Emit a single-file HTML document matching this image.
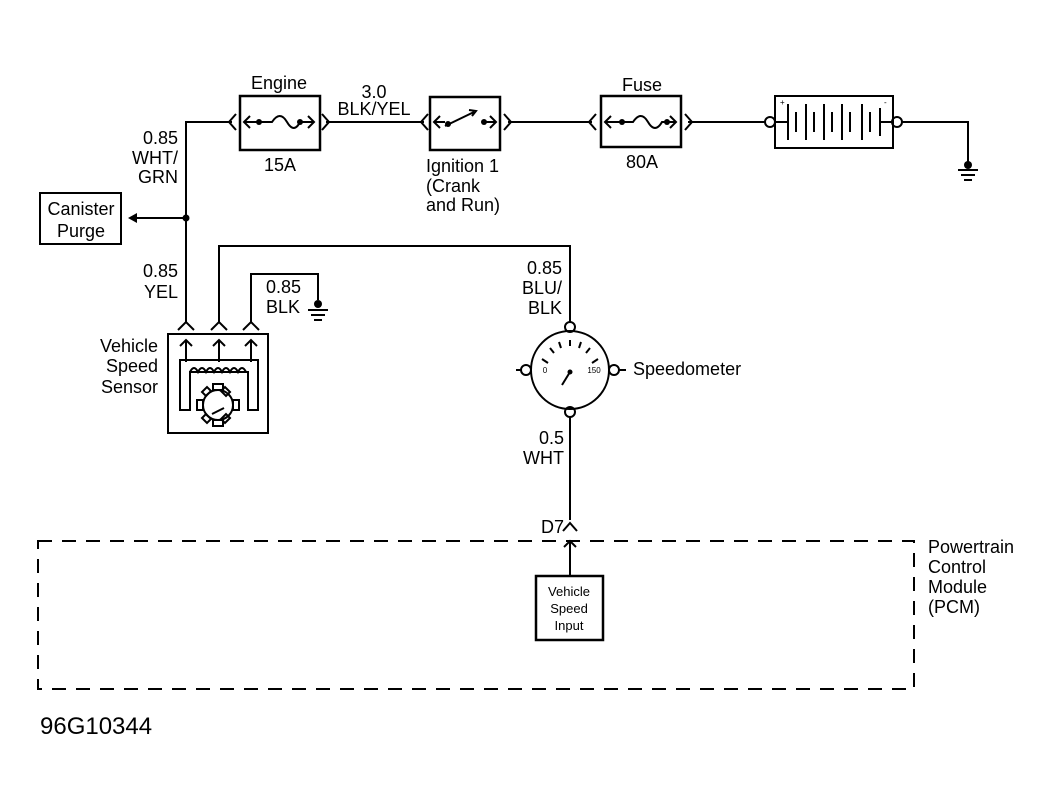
<!DOCTYPE html>
<html><head><meta charset="utf-8"><style>
html,body{margin:0;padding:0;background:#fff;}
svg{display:block;}
text{font-family:"Liberation Sans",sans-serif;fill:#000;}
</style></head><body>
<svg width="1054" height="812" viewBox="0 0 1054 812" xmlns="http://www.w3.org/2000/svg">
<g stroke="#000" stroke-width="2" fill="none">
<path d="M186 322 V122 H232"/>
<path d="M326 122 H424"/>
<path d="M508 122 H592"/>
<path d="M688 122 H766"/>
<path d="M902 122 H968 V162"/>
<path d="M236 114 L229 122 L236 130"/>
<path d="M322 114 L329 122 L322 130"/>
<path d="M428 114 L421 122 L428 130"/>
<path d="M504 114 L511 122 L504 130"/>
<path d="M596 114 L589 122 L596 130"/>
<path d="M685 114 L692 122 L685 130"/>
<rect x="240" y="96" width="80" height="54" stroke-width="2.5"/>
<path d="M244 122 H256 M250 116 L244 122 L250 128"/>
<path d="M256 122 H272 Q280 110 287 122 T300 122 H314 M308 116 L314 122 L308 128"/>
<rect x="430" y="97" width="70" height="53" stroke-width="2.5"/>
<path d="M434 122 H445 M440 116 L434 122 L440 128"/>
<path d="M445 126 L474 112 M469 110 L476 111 L472 116"/>
<path d="M485 122 H496 M490 116 L496 122 L490 128"/>
<rect x="601" y="96" width="80" height="51" stroke-width="2.5"/>
<path d="M605 122 H620 M611 116 L605 122 L611 128"/>
<path d="M620 122 H633 Q641 110 648 122 T662 122 H676 M670 116 L676 122 L670 128"/>
<rect x="775" y="96" width="118" height="52"/>
<circle cx="770" cy="122" r="5"/>
<circle cx="897" cy="122" r="5"/>
<path d="M775 122 H788 M880 122 H892"/>
<path d="M788 104 V140 M796 112 V132 M806 104 V140 M814 112 V132 M824 104 V140 M832 112 V132 M842 104 V140 M850 112 V132 M862 104 V140 M870 112 V132 M880 108 V136"/>
<path d="M958 170 H978 M961 175 H975 M964 180 H972"/>
<rect x="40" y="193" width="81" height="51"/>
<path d="M186 218 H134"/>
<path d="M219 322 V246 H570 V322"/>
<path d="M251 322 V274 H318 V300"/>
<path d="M308 310 H328 M311 315 H325 M314 320 H322"/>
<path d="M178 330 L186 322 L194 330"/>
<path d="M211 330 L219 322 L227 330"/>
<path d="M243 330 L251 322 L259 330"/>
<rect x="168" y="334" width="100" height="99"/>
<path d="M186 340 V362 M180 346 L186 340 L192 346"/>
<path d="M219 340 V362 M213 346 L219 340 L225 346"/>
<path d="M251 340 V362 M245 346 L251 340 L257 346"/>
<path d="M180 410 V360 H258 V410 H248 V372 H190 V410 Z"/>
<path d="M190 372 q4 -8 8 0 q4 -8 8 0 q4 -8 8 0 q4 -8 8 0 q4 -8 8 0 q4 -8 8 0 q4 -8 8 0"/>
<circle cx="218" cy="405" r="15"/>
<path d="M212 414 L224 408"/>
<rect x="213" y="384" width="10" height="6"/>
<rect x="213" y="420" width="10" height="6"/>
<rect x="197" y="400" width="6" height="10"/>
<rect x="233" y="400" width="6" height="10"/>
<path d="M202 392 l5 -5 4 4 -5 5z M230 392 l-5 -5 -4 4 5 5z M202 418 l5 5 4 -4 -5 -5z M230 418 l-5 5 -4 -4 5 -5z"/>
<circle cx="570" cy="370" r="39"/>
<circle cx="570" cy="327" r="5"/>
<circle cx="570" cy="412" r="5"/>
<circle cx="526" cy="370" r="5"/>
<circle cx="614" cy="370" r="5"/>
<path d="M516 370 H521 M619 370 H626"/>
<path d="M548 363 L542 359 M554 353 L550 348 M561 348 L559 342 M570 346 V340 M579 348 L581 342 M586 353 L590 348 M592 363 L598 359"/>
<path d="M570 372 L562 385"/>
<path d="M570 417 V520"/>
<path d="M563 531 L570 523 L577 531"/>
<path d="M570 575 V541 M564 547 L570 541 L576 547"/>
<rect x="536" y="576" width="67" height="64" stroke-width="2.5"/>
<rect x="38" y="541" width="876" height="148" stroke-dasharray="14 10"/>
</g>
<g fill="#000">
<circle cx="259" cy="122" r="3"/><circle cx="300" cy="122" r="3"/>
<circle cx="448" cy="124" r="3"/><circle cx="484" cy="122" r="3"/>
<circle cx="622" cy="122" r="3"/><circle cx="667" cy="122" r="3"/>
<circle cx="186" cy="218" r="3.5"/>
<path d="M128 218 L137 213 L137 223 Z"/>
<circle cx="968" cy="165" r="4"/><circle cx="318" cy="304" r="4"/>
<circle cx="570" cy="372" r="2.5"/>
</g>
<g font-size="18">
<text x="279" y="89" text-anchor="middle">Engine</text>
<text x="280" y="171" text-anchor="middle">15A</text>
<text x="374" y="98" text-anchor="middle">3.0</text>
<text x="374" y="115" text-anchor="middle">BLK/YEL</text>
<text x="426" y="172">Ignition 1</text>
<text x="426" y="192">(Crank</text>
<text x="426" y="211">and Run)</text>
<text x="642" y="91" text-anchor="middle">Fuse</text>
<text x="642" y="168" text-anchor="middle">80A</text>
<text x="178" y="144" text-anchor="end">0.85</text>
<text x="178" y="164" text-anchor="end">WHT/</text>
<text x="178" y="183" text-anchor="end">GRN</text>
<text x="81" y="215" text-anchor="middle">Canister</text>
<text x="81" y="237" text-anchor="middle">Purge</text>
<text x="178" y="277" text-anchor="end">0.85</text>
<text x="178" y="298" text-anchor="end">YEL</text>
<text x="266" y="293">0.85</text>
<text x="266" y="313">BLK</text>
<text x="158" y="352" text-anchor="end">Vehicle</text>
<text x="158" y="372" text-anchor="end">Speed</text>
<text x="158" y="393" text-anchor="end">Sensor</text>
<text x="562" y="274" text-anchor="end">0.85</text>
<text x="562" y="294" text-anchor="end">BLU/</text>
<text x="562" y="314" text-anchor="end">BLK</text>
<text x="633" y="375">Speedometer</text>
<text x="564" y="444" text-anchor="end">0.5</text>
<text x="564" y="464" text-anchor="end">WHT</text>
<text x="564" y="533" text-anchor="end">D7</text>
<text x="928" y="553">Powertrain</text>
<text x="928" y="573">Control</text>
<text x="928" y="593">Module</text>
<text x="928" y="613">(PCM)</text>
</g>
<g font-size="8">
<text x="545" y="373" text-anchor="middle">0</text>
<text x="594" y="373" text-anchor="middle">150</text>
<text x="780" y="105">+</text><text x="884" y="105">-</text>
</g>
<g font-size="13" text-anchor="middle">
<text x="569" y="596">Vehicle</text>
<text x="569" y="613">Speed</text>
<text x="569" y="630">Input</text>
</g>
<text x="40" y="734" font-size="24">96G10344</text>
</svg>
</body></html>
